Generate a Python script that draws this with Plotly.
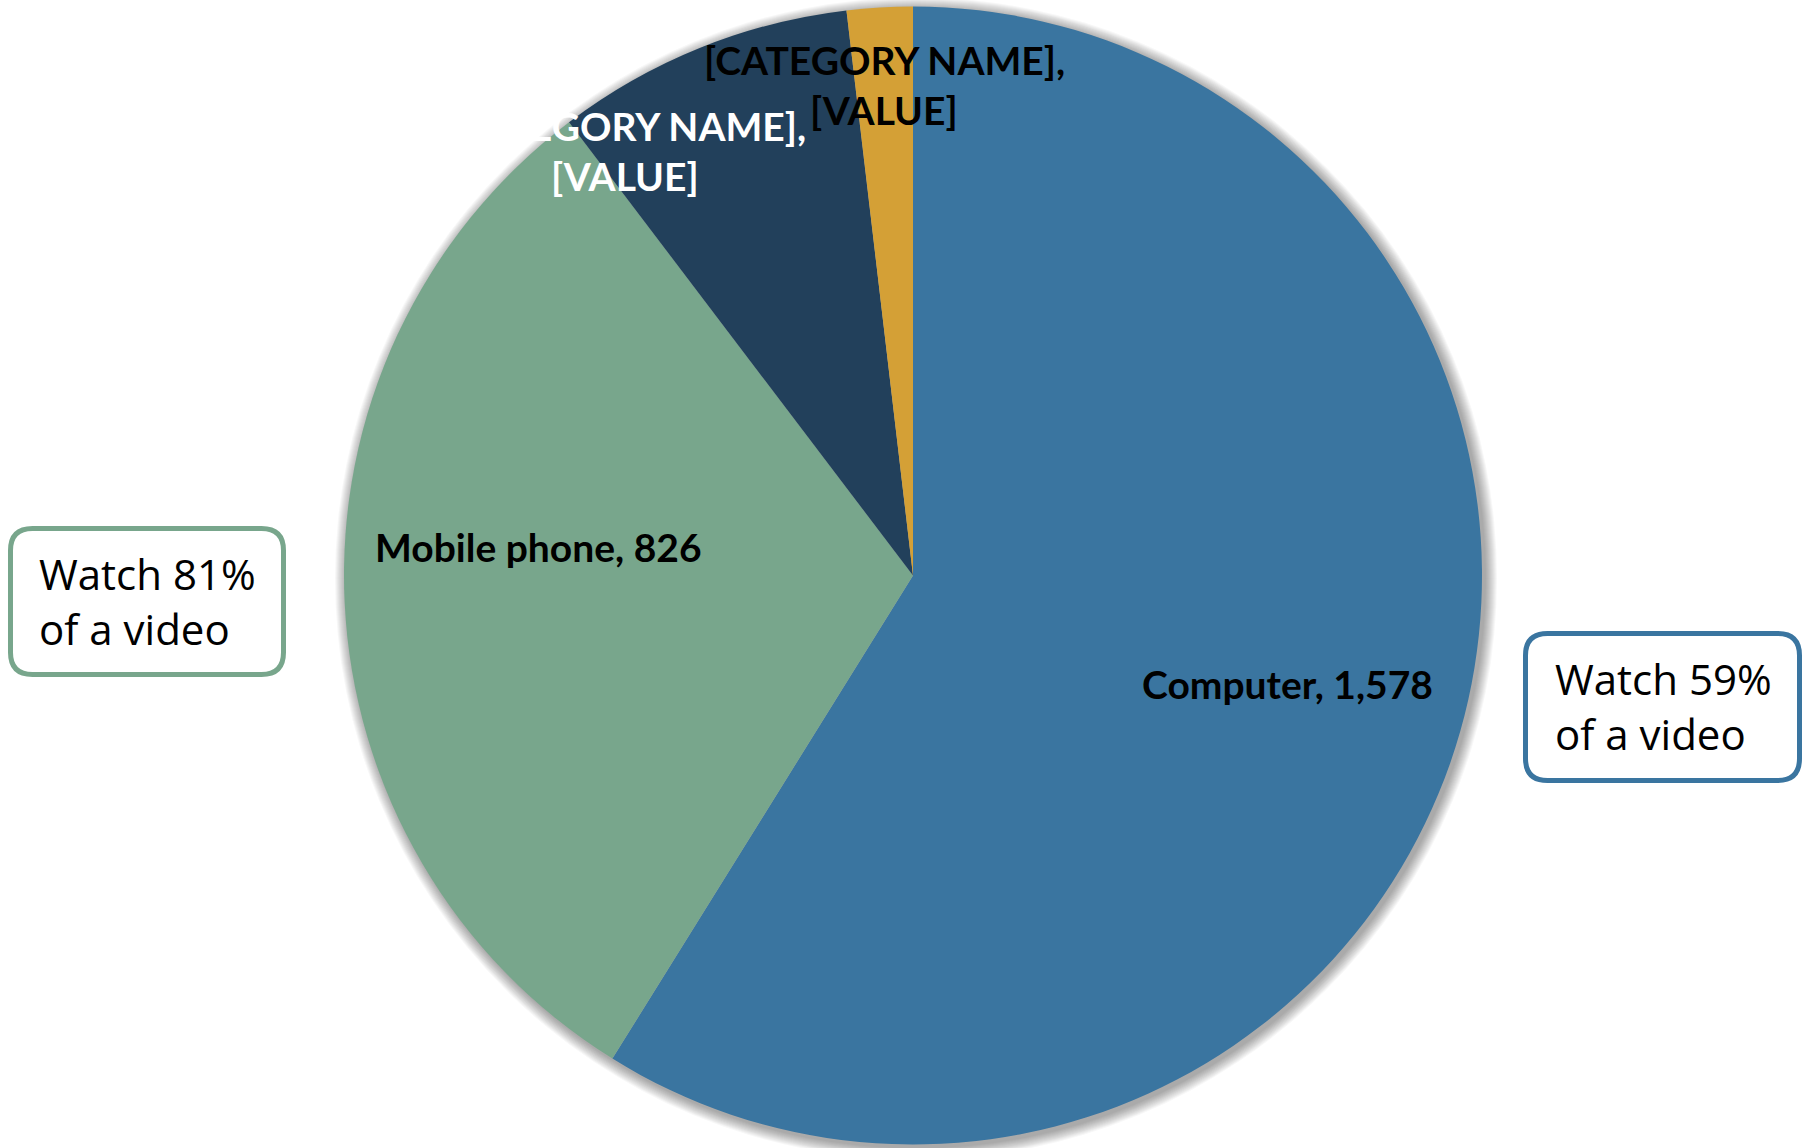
import plotly.graph_objects as go

W, H = 1814, 1148

# ---- data ----
categories = ["Computer", "Mobile phone", "[CATEGORY NAME]", "[CATEGORY NAME] "]
values = [1578, 826, 227, 50]
slice_colors = ["#3A75A0", "#78A68C", "#22405B", "#D4A036"]
label_lines = [
    ["Computer, 1,578"],
    ["Mobile phone, 826"],
    ["[CATEGORY NAME],", "[VALUE]"],
    ["[CATEGORY NAME],", "[VALUE]"],
]
label_colors = ["black", "black", "white", "black"]
callout_texts = ["Watch 81%<br>of a video", "Watch 59%<br>of a video"]
callout_colors = ["#78A68C", "#3A75A0"]

# ---- layout helpers (pixel -> paper) ----
def px(x):
    return x / W

def py(y):
    return 1 - y / H

cx, cy, R = 913, 575.5, 569

fig = go.Figure()
fig.add_trace(go.Pie(
    labels=categories,
    values=values,
    sort=False,
    direction="clockwise",
    rotation=0,
    marker=dict(colors=slice_colors, line=dict(width=0)),
    textinfo="none",
    hoverinfo="label+value",
    showlegend=False,
    domain=dict(x=[px(cx - R), px(cx + R)], y=[py(cy + R), py(cy - R)]),
))

shapes = []
# soft shadow behind the pie
for k in range(1, 13):
    r = R + k
    sx, sy = cx + 3, cy + 3
    shapes.append(dict(
        type="circle", xref="paper", yref="paper", layer="below",
        x0=px(sx - r), x1=px(sx + r), y0=py(sy + r), y1=py(sy - r),
        line=dict(width=0), fillcolor="rgba(0,0,0,0.03)",
    ))

def rounded(x0, y0, x1, y1, r):
    pts = [
        ("M", [(x0 + r, y0)]), ("L", [(x1 - r, y0)]), ("Q", [(x1, y0), (x1, y0 + r)]),
        ("L", [(x1, y1 - r)]), ("Q", [(x1, y1), (x1 - r, y1)]), ("L", [(x0 + r, y1)]),
        ("Q", [(x0, y1), (x0, y1 - r)]), ("L", [(x0, y0 + r)]), ("Q", [(x0, y0), (x0 + r, y0)]),
    ]
    s = ""
    for cmd, ps in pts:
        s += cmd + " " + " ".join(f"{px(a):.6f},{py(b):.6f}" for a, b in ps) + " "
    return s + "Z"

boxes = [(10.5, 528.5, 283.5, 674.5), (1525.5, 633.5, 1799.5, 780.5)]
for (x0, y0, x1, y1), col in zip(boxes, callout_colors):
    shapes.append(dict(
        type="path", xref="paper", yref="paper", layer="above",
        path=rounded(x0, y0, x1, y1, 22),
        line=dict(color=col, width=5), fillcolor="white",
    ))

annotations = []
label_pos = [
    [(1287, 685)],
    [(538, 548)],
    [(625, 128), (625, 177)],
    [(884, 62), (884, 112)],
]
label_font = "Lato, Open Sans, sans-serif"
for lines, poss, col in zip(label_lines, label_pos, label_colors):
    for t, (x, y) in zip(lines, poss):
        annotations.append(dict(
            text=f"<b>{t}</b>", x=px(x), y=py(y - 1.5), xref="paper", yref="paper",
            xanchor="center", yanchor="middle", showarrow=False,
            font=dict(family=label_font, size=39, color=col),
        ))

callout_pos = [(37, 602), (1553, 707)]
for t, (x, y) in zip(callout_texts, callout_pos):
    annotations.append(dict(
        text=t, x=px(x), y=py(y - 1), xref="paper", yref="paper",
        xanchor="left", yanchor="middle", align="left", showarrow=False,
        font=dict(family="Open Sans, sans-serif", size=42, color="black"),
    ))

fig.update_layout(
    width=W, height=H,
    margin=dict(l=0, r=0, t=0, b=0),
    paper_bgcolor="white", plot_bgcolor="white",
    shapes=shapes, annotations=annotations,
)

fig.write_html("out.html", config={"displayModeBar": False},
               post_script="document.body.style.margin='0';")
